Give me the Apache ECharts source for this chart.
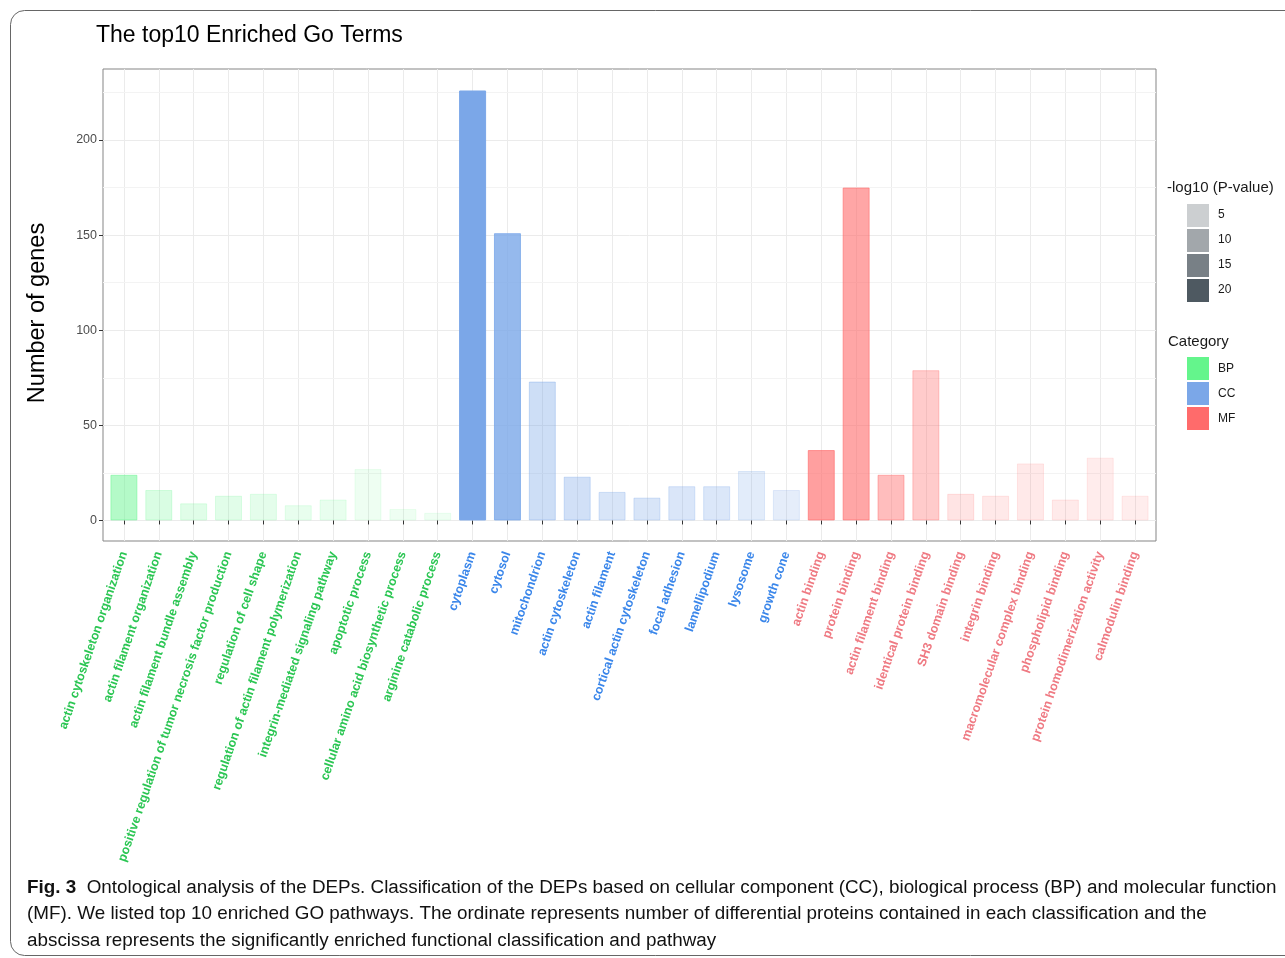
<!DOCTYPE html>
<html><head><meta charset="utf-8">
<script src="https://cdn.jsdelivr.net/npm/echarts@6/dist/echarts.min.js"></script>
<style>html,body{margin:0;padding:0;background:#fff}#c{width:1285px;height:958px}</style>
</head><body><div id="c"></div><script>
// ---- data ----
const bpTerms = ['actin cytoskeleton organization','actin filament organization','actin filament bundle assembly','positive regulation of tumor necrosis factor production','regulation of cell shape','regulation of actin filament polymerization','integrin-mediated signaling pathway','apoptotic process','cellular amino acid biosynthetic process','arginine catabolic process'];
const bpCounts = [24,16,9,13,14,8,11,27,6,4];
const bpNegLog10P = [10.5,4.9,3.7,3.5,3.0,2.5,2.5,1.5,1.5,1.3];
const ccTerms = ['cytoplasm','cytosol','mitochondrion','actin cytoskeleton','actin filament','cortical actin cytoskeleton','focal adhesion','lamellipodium','lysosome','growth cone'];
const ccCounts = [226,151,73,23,15,12,18,18,26,16];
const ccNegLog10P = [23.0,18.2,8.0,7.3,6.1,6.1,5.6,5.4,4.2,3.7];
const mfTerms = ['actin binding','protein binding','actin filament binding','identical protein binding','SH3 domain binding','integrin binding','macromolecular complex binding','phospholipid binding','protein homodimerization activity','calmodulin binding'];
const mfCounts = [37,175,24,79,14,13,30,11,33,13];
const mfNegLog10P = [14.6,13.4,9.7,7.3,3.2,2.5,2.5,2.3,2.0,1.8];
const categoryNames = ['BP','CC','MF'];
const yTicks = [0,50,100,150,200];
const yMinorGrid = [25,75,125,175,225];
const pLegendBreaks = [5,10,15,20];
const captionLines = [
  ['Fig. 3', '  Ontological analysis of the DEPs. Classification of the DEPs based on cellular component (CC), biological process (BP) and molecular function'],
  ['', '(MF). We listed top 10 enriched GO pathways. The ordinate represents number of differential proteins contained in each classification and the'],
  ['', 'abscissa represents the significantly enriched functional classification and pathway']
];

// ---- styling ----
const fills = {BP:'#64F58C', CC:'#7BA7E8', MF:'#FF6B6B'};
const textCols = {BP:'#2BC653', CC:'#3A86EA', MF:'#EF7A83'};
const legendBase = '#35414A';
const FONT = '"Liberation Sans", Arial, Helvetica, sans-serif';

function rgba(hex, a){
  const n = parseInt(hex.slice(1),16);
  return 'rgba(' + ((n>>16)&255) + ',' + ((n>>8)&255) + ',' + (n&255) + ',' + a.toFixed(3) + ')';
}
const allP = bpNegLog10P.concat(ccNegLog10P, mfNegLog10P);
const pMin = Math.min.apply(null, allP), pMax = Math.max.apply(null, allP);
function alphaOf(v){ return 0.1 + 0.9 * (v - pMin) / (pMax - pMin); }

const groups = [
  {name:'BP', terms:bpTerms, counts:bpCounts, p:bpNegLog10P},
  {name:'CC', terms:ccTerms, counts:ccCounts, p:ccNegLog10P},
  {name:'MF', terms:mfTerms, counts:mfCounts, p:mfNegLog10P}
];
const allTerms = [], termGroup = [];
groups.forEach(g => g.terms.forEach(t => { allTerms.push(t); termGroup.push(g.name); }));
const xTickValues = allTerms.map((t,i) => i+1);

let offset = 0;
const series = groups.map((g, gi) => {
  const data = g.counts.map((c, i) => {
    const a = alphaOf(g.p[i]);
    return {value:[offset + i + 1, c], itemStyle:{color: rgba(fills[g.name], a), borderColor: rgba(fills[g.name], a), borderWidth: 1}};
  });
  offset += g.terms.length;
  const s = {name:g.name, type:'bar', barWidth:27, barGap:'-100%', data, z:2,
    itemStyle:{color: fills[g.name], borderWidth:0}};
  if (gi === 0) {
    s.markLine = {silent:true, symbol:'none', z:1, animation:false, label:{show:false},
      lineStyle:{color:'#F3F3F3', width:1, type:'solid'},
      emphasis:{disabled:true},
      data: yMinorGrid.map(v => ({yAxis:v}))};
  }
  return s;
});

const rich = {};
categoryNames.forEach(n => { rich[n] = {color:textCols[n], fontSize:12.5, fontWeight:'bold', fontFamily:FONT}; });

const graphics = [
  {type:'rect', silent:true, z:-10, shape:{x:10.5, y:10.5, width:1300, height:945, r:14}, style:{fill:'none', stroke:'#666', lineWidth:1}},
  {type:'text', left:1167, top:180, style:{text:'-log10 (P-value)', font:'15px ' + FONT, fill:'#1a1a1a'}},
  {type:'text', left:1168, top:334, style:{text:'Category', font:'15px ' + FONT, fill:'#1a1a1a'}}
];
pLegendBreaks.forEach((b, i) => {
  graphics.push({type:'rect', silent:true, shape:{x:1187, y:204 + i*25, width:22, height:23}, style:{fill: rgba(legendBase, alphaOf(b))}});
  graphics.push({type:'text', left:1218, top:209 + i*25, style:{text:String(b), font:'12px ' + FONT, fill:'#1a1a1a'}});
});
captionLines.forEach((ln, i) => {
  graphics.push({type:'text', left:27, top:878 + i*26.6, style:{
    text: (ln[0] ? '{b|' + ln[0] + '}' : '') + '{r|' + ln[1] + '}',
    rich:{b:{font:'bold 18.85px ' + FONT, fill:'#111'}, r:{font:'18.85px ' + FONT, fill:'#111'}}
  }});
});

const chart = echarts.init(document.getElementById('c'), null, {renderer:'canvas'});
chart.setOption({
  animation:false,
  backgroundColor:'#fff',
  title:{text:'The top10 Enriched Go Terms', left:96, top:24, padding:0, textStyle:{fontSize:23, fontWeight:'normal', color:'#000', fontFamily:FONT}},
  grid:{left:103, top:69, width:1053, height:472, show:true, borderColor:'#858585', borderWidth:1, backgroundColor:'#fff', containLabel:false},
  legend:{data:categoryNames, orient:'vertical', left:1187, top:357, itemWidth:22, itemHeight:23, itemGap:2, icon:'rect',
    textStyle:{fontSize:12, color:'#1a1a1a', fontFamily:FONT, padding:[0,0,0,4]}, selectedMode:false, padding:0},
  xAxis:{type:'value', min:0.4, max:30.6, minInterval:1, maxInterval:1,
    axisLine:{show:false},
    axisTick:{show:true, length:4, lineStyle:{color:'#333'}, customValues:xTickValues},
    axisLabel:{rotate:71, margin:11, customValues:xTickValues, rich:rich,
      formatter: v => { const k = Math.round(v); if (Math.abs(v-k) > 1e-6 || k < 1 || k > allTerms.length) return ''; return '{' + termGroup[k-1] + '|' + allTerms[k-1] + '}'; }},
    splitLine:{show:true, lineStyle:{color:'#EBEBEB', width:1}}},
  yAxis:{type:'value', min:-10.8, max:237.3, minInterval:50, maxInterval:50,
    name:'Number of genes', nameLocation:'middle', nameGap:53, nameTextStyle:{fontSize:23.5, color:'#000', fontFamily:FONT, padding:[0,16,0,0]},
    axisLine:{show:false},
    axisTick:{show:true, length:4, lineStyle:{color:'#333'}, customValues:yTicks},
    axisLabel:{customValues:yTicks, color:'#4D4D4D', fontSize:12.5, margin:6, fontFamily:FONT,
      formatter: v => yTicks.indexOf(v) >= 0 ? String(v) : ''},
    splitLine:{show:true, lineStyle:{color:'#EBEBEB', width:1}}},
  series: series,
  graphic: graphics
});
</script></body></html>
